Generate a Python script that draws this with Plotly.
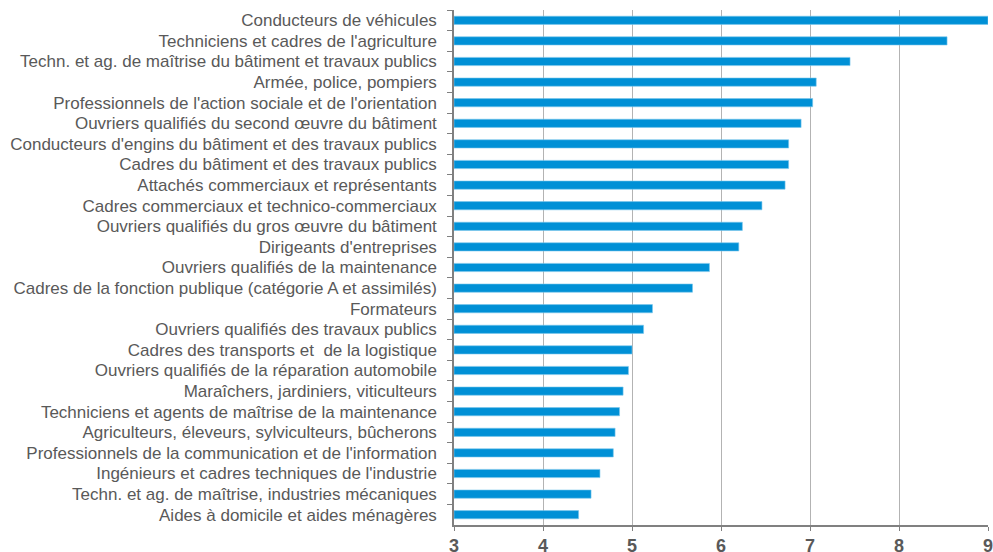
import plotly.graph_objects as go

# ──────────  DATA  ──────────
metiers = [
    "Conducteurs de véhicules",
    "Techniciens et cadres de l'agriculture",
    "Techn. et ag. de maîtrise du bâtiment et travaux publics",
    "Armée, police, pompiers",
    "Professionnels de l'action sociale et de l'orientation",
    "Ouvriers qualifiés du second œuvre du bâtiment",
    "Conducteurs d'engins du bâtiment et des travaux publics",
    "Cadres du bâtiment et des travaux publics",
    "Attachés commerciaux et représentants",
    "Cadres commerciaux et technico-commerciaux",
    "Ouvriers qualifiés du gros œuvre du bâtiment",
    "Dirigeants d'entreprises",
    "Ouvriers qualifiés de la maintenance",
    "Cadres de la fonction publique (catégorie A et assimilés)",
    "Formateurs",
    "Ouvriers qualifiés des travaux publics",
    "Cadres des transports et  de la logistique",
    "Ouvriers qualifiés de la réparation automobile",
    "Maraîchers, jardiniers, viticulteurs",
    "Techniciens et agents de maîtrise de la maintenance",
    "Agriculteurs, éleveurs, sylviculteurs, bûcherons",
    "Professionnels de la communication et de l'information",
    "Ingénieurs et cadres techniques de l'industrie",
    "Techn. et ag. de maîtrise, industries mécaniques",
    "Aides à domicile et aides ménagères",
]
valeurs = [9.00, 8.54, 7.45, 7.07, 7.03, 6.90, 6.76, 6.76, 6.72, 6.46,
           6.24, 6.20, 5.87, 5.68, 5.23, 5.13, 5.00, 4.96, 4.90, 4.86,
           4.81, 4.79, 4.64, 4.54, 4.40]
x_ticks = [3, 4, 5, 6, 7, 8, 9]
x_min = 3

# ──────────  PLOT  ──────────
fig = go.Figure(go.Bar(
    x=[v - x_min for v in valeurs], y=metiers, orientation="h", base=x_min,
    width=0.4, marker=dict(color="#0090D6", line=dict(color="#7CC8EC", width=0.6)),
))

fig.update_xaxes(
    range=[3, 9], tickvals=x_ticks, showgrid=True, gridcolor="#B3B3B3", gridwidth=1,
    showline=True, linecolor="#808080", linewidth=1.5,
    ticks="outside", ticklen=4, tickcolor="#808080",
    tickfont=dict(family="Liberation Sans, Arial", size=18, color="#595959", weight="bold"),
    zeroline=False, automargin=False, ticklabeloverflow="allow",
)
fig.update_yaxes(
    autorange="reversed", showline=True, linecolor="#808080", linewidth=1.5,
    ticks="outside", ticklen=5, tickcolor="#808080", tickson="boundaries",
    tickfont=dict(family="Liberation Sans, Arial", size=17, color="#595959"),
    ticklabelstandoff=12, automargin=False,
)
fig.update_layout(
    width=993, height=552, plot_bgcolor="white", paper_bgcolor="white",
    margin=dict(l=454, r=5, t=10, b=27), bargap=0.6, showlegend=False,
    hovermode=False,
)

# drop the default 8px body margin so the figure fills the window exactly
fig.write_html("out.html", config={"displayModeBar": False},
               post_script="document.body.style.margin='0';document.body.style.overflow='hidden';")
